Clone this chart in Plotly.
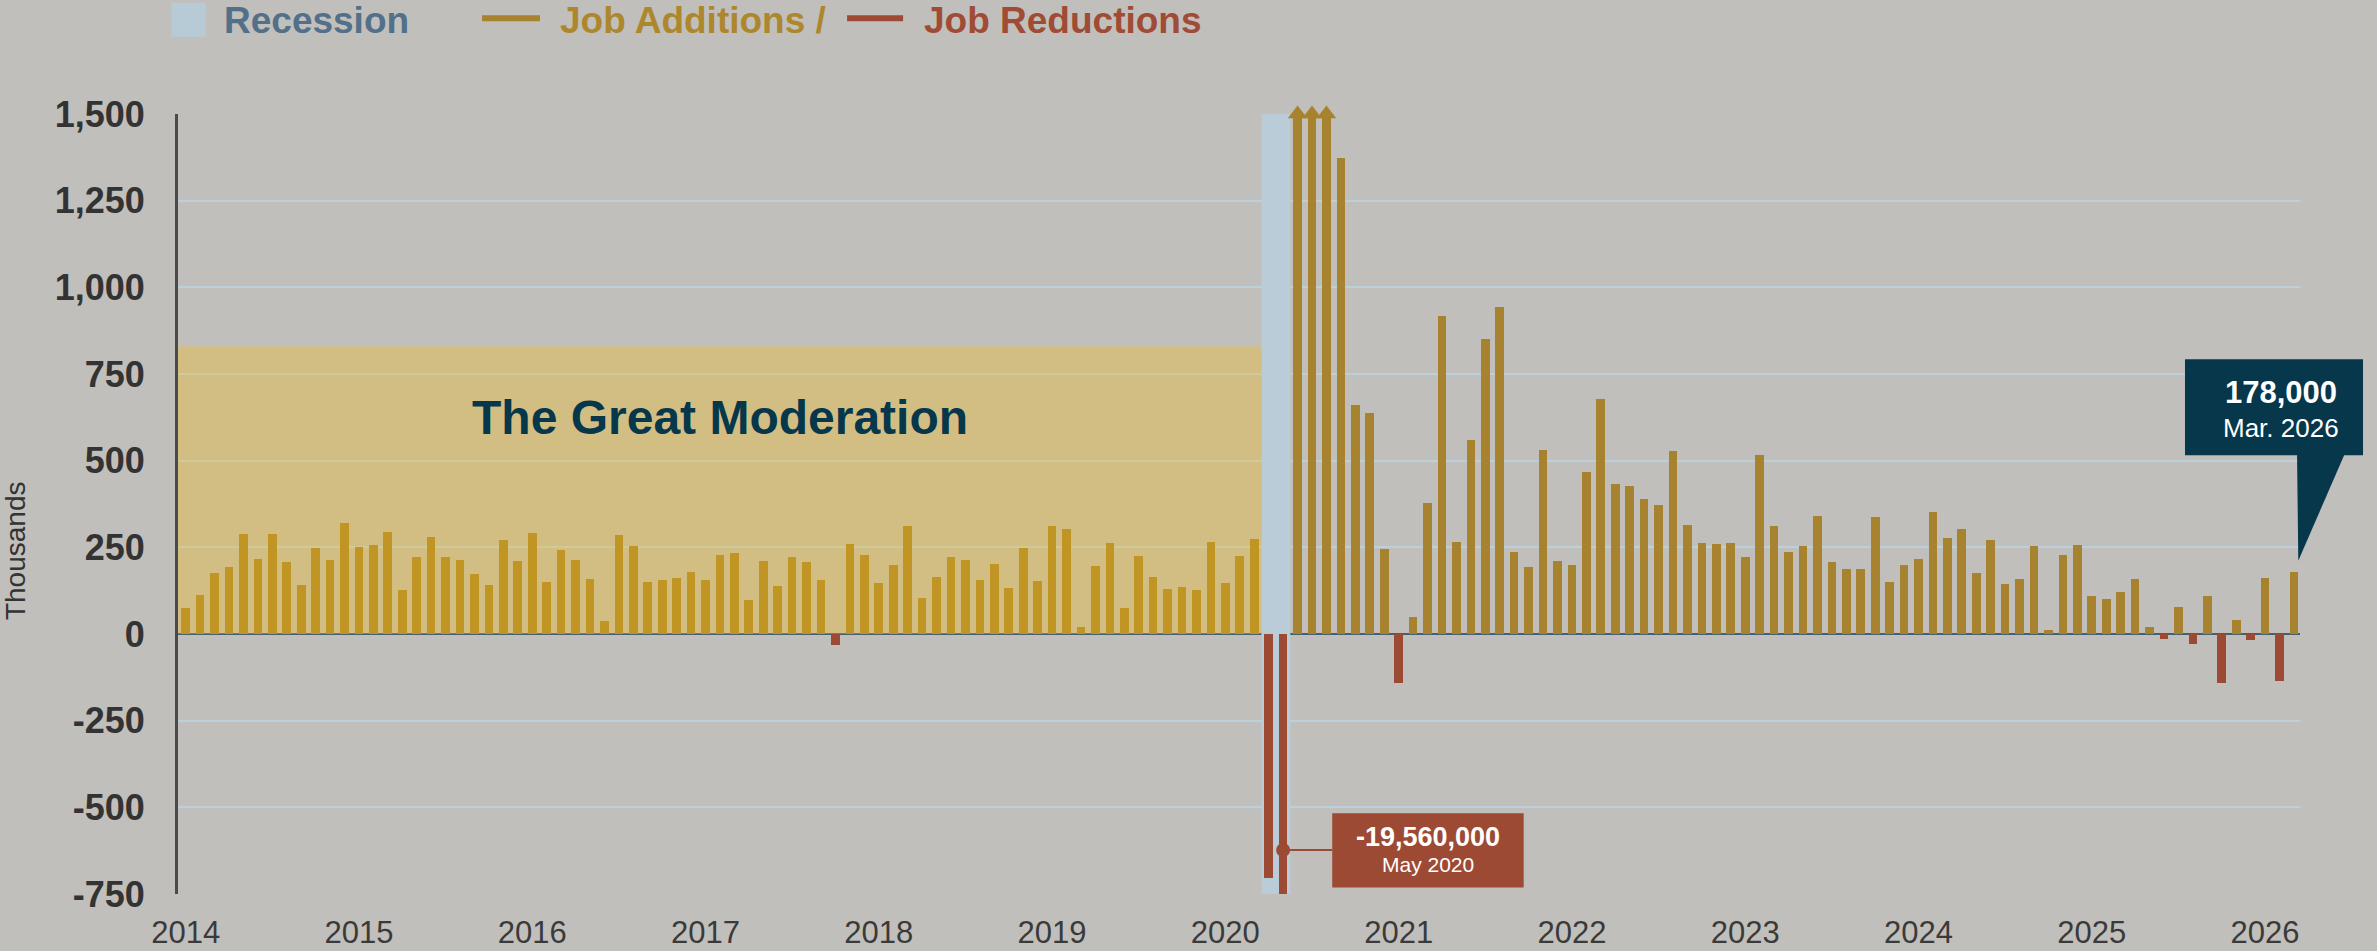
import pandas as pd
import plotly.graph_objects as go

# monthly categories Jan 2014 .. Mar 2026
months = [p.strftime("%Y-%m") for p in pd.period_range("2014-01", "2026-03", freq="M")]

# monthly change in payrolls, thousands (Jun-Aug 2020 are off the scale)
payrolls = [
    75, 113, 175, 193, 288, 217, 288, 209, 142, 248, 214, 320,          # 2014
    252, 257, 294, 126, 223, 280, 223, 214, 173, 142, 271, 211,         # 2015
    291, 151, 242, 214, 160, 38, 287, 255, 151, 156, 161, 178,          # 2016
    156, 228, 235, 99, 211, 139, 222, 209, 156, -33, 260, 228,          # 2017
    148, 199, 312, 103, 164, 222, 213, 157, 201, 134, 249, 154,         # 2018
    312, 304, 20, 196, 262, 76, 224, 164, 130, 136, 128, 265,           # 2019
    146, 225, 273, -703, -19560, 2725, 4781, 1726, 1372, 662, 638, 245, # 2020
    -140, 49, 379, 916, 266, 560, 851, 943, 236, 194, 531, 211,         # 2021
    199, 467, 678, 432, 427, 389, 372, 528, 315, 263, 261, 263,         # 2022
    223, 517, 312, 236, 254, 339, 209, 187, 187, 337, 150, 199,         # 2023
    216, 353, 276, 303, 175, 271, 144, 159, 254, 12, 228, 256,          # 2024
    111, 102, 121, 158, 19, -13, 79, -28, 109, -140, 40, -16,           # 2025
    161, -135, 178,                                                     # 2026
]

recession = ["2020-04", "2020-05"]
moderation = ["2014-01", "2020-03"]
moderation_top = 830

year_ticks = [m for m in months if m.endswith("-01")]
year_labels = [m[:4] for m in year_ticks]
y_ticks = list(range(-750, 1501, 250))

GOLD = "#a7822f"
RED = "#9d4a35"
TEAL = "#06374a"
BG = "#c1bfbb"
FONT = "Liberation Sans, Arial, sans-serif"

ymin, ymax = -750, 1500
x_range = [-0.53, len(months) - 1 + 0.42]

colors = [GOLD if v >= 0 else RED for v in payrolls]

fig = go.Figure()
fig.add_trace(go.Bar(x=months, y=payrolls, marker_color=colors, marker_line_width=0,
                     width=0.6, showlegend=False, hoverinfo="x+y"))

# arrow heads for bars that run off the scale
up = [m for m, v in zip(months, payrolls) if v > ymax]
down = [m for m, v in zip(months, payrolls) if v < ymin]
fig.add_trace(go.Scatter(x=up, y=[ymax] * len(up), mode="markers", cliponaxis=False,
                         marker=dict(symbol="triangle-up", size=17, color=GOLD),
                         showlegend=False, hoverinfo="skip"))
fig.add_trace(go.Scatter(x=down, y=[ymin - 15] * len(down), mode="markers", cliponaxis=False,
                         marker=dict(symbol="triangle-down", size=17, color=RED),
                         showlegend=False, hoverinfo="skip"))

# callout for the big drop
low_i = payrolls.index(min(payrolls))
fig.add_trace(go.Scatter(x=[months[low_i]], y=[-623], mode="markers",
                         marker=dict(size=14, color=RED), showlegend=False, hoverinfo="skip"))

rec0 = months.index(recession[0]) - 0.5
rec1 = months.index(recession[-1]) + 0.5
gm1 = months.index(moderation[-1]) + 0.5

shapes = [
    dict(type="rect", xref="x", yref="y", x0=rec0, x1=rec1, y0=ymin, y1=ymax,
         fillcolor="#b9ccd7", line_width=0, layer="between"),
    dict(type="rect", xref="x", yref="y", x0=x_range[0], x1=gm1, y0=0, y1=moderation_top,
         fillcolor="#f7bf0c", opacity=0.32, line_width=0, layer="above"),
    dict(type="line", xref="x", yref="y", x0=low_i, x1=low_i + 3.4, y0=-623, y1=-623,
         line=dict(color=RED, width=2), layer="above"),
    dict(type="rect", xref="x", yref="y", x0=low_i + 3.4, x1=low_i + 16.66, y0=-731, y1=-517,
         fillcolor=RED, line_width=0, layer="above"),
    # latest value callout
    dict(type="rect", xref="paper", yref="paper", x0=0.9458, x1=1.0297, y0=0.5624, y1=0.6855,
         fillcolor=TEAL, line_width=0, layer="above"),
    dict(type="path", xref="paper", yref="paper",
         path="M 0.9986,0.5650 L 1.0212,0.5650 L 0.9992,0.4273 Z",
         fillcolor=TEAL, line_width=0, layer="above"),
    # legend keys
    dict(type="rect", xref="paper", yref="paper", x0=-0.0031, x1=0.0131, y0=1.0991, y1=1.1427,
         fillcolor="#b7cbd7", line_width=0),
    dict(type="line", xref="paper", yref="paper", x0=0.1433, x1=0.1706, y0=1.1227, y1=1.1227,
         line=dict(color=GOLD, width=6)),
    dict(type="line", xref="paper", yref="paper", x0=0.3153, x1=0.3417, y0=1.1227, y1=1.1227,
         line=dict(color=RED, width=6)),
]

last = payrolls[-1]
last_label = pd.Period(months[-1]).strftime("%b. %Y")
low_label = pd.Period(months[low_i]).strftime("%B %Y")


def note(text, x, y, size, color, xref="paper", yref="paper", xanchor="center", **kw):
    return dict(text=text, xref=xref, yref=yref, x=x, y=y, xanchor=xanchor, yanchor="middle",
                showarrow=False, font=dict(family=FONT, size=size, color=color), **kw)


annotations = [
    note("<b>The Great Moderation</b>", 0.2554, 0.6103, 48, TEAL),
    note(f"<b>{min(payrolls) * 1000:,}</b>", low_i + 10.0, -585, 27, "white", xref="x", yref="y"),
    note(low_label, low_i + 10.0, -665, 21, "white", xref="x", yref="y"),
    note(f"<b>{last * 1000:,}</b>", 0.9911, 0.6427, 31, "white"),
    note(last_label, 0.9911, 0.5974, 26, "white"),
    note("Thousands", -0.0768, 0.4397, 28, "#333333", textangle=-90),
    note("<b>Recession</b>", 0.0206, 1.1205, 37, "#52708a", xanchor="left"),
    note("<b>Job Additions /</b>", 0.1791, 1.1205, 37, "#ad872d", xanchor="left"),
    note("<b>Job Reductions</b>", 0.3506, 1.1205, 37, "#a04b35", xanchor="left"),
]

fig.update_layout(
    width=2377, height=951,
    margin=dict(l=178, r=77, t=114, b=57),
    paper_bgcolor=BG, plot_bgcolor=BG,
    bargap=0, shapes=shapes, annotations=annotations,
    font=dict(family=FONT, color="#333333"),
)
fig.update_xaxes(type="category", range=x_range, tickvals=year_ticks, ticktext=year_labels,
                 showgrid=False, showline=False, zeroline=False, ticks="", automargin=False,
                 ticklabelstandoff=17, tickfont=dict(family=FONT, size=31, color="#3a3a3a"))
fig.update_yaxes(range=[ymin, ymax], tickvals=y_ticks,
                 ticktext=[f"<b>{v:,}</b>" for v in y_ticks], automargin=False,
                 showgrid=True, gridcolor="#bcd0dc", gridwidth=2,
                 zeroline=True, zerolinecolor="#46616b", zerolinewidth=2,
                 showline=True, linecolor="#4a4a4a", linewidth=3, ticks="",
                 ticklabelstandoff=23, tickfont=dict(family=FONT, size=36, color="#333333"))

fig.write_html("out.html", config={"displayModeBar": False},
               post_script="document.body.style.margin='0';document.body.style.overflow='hidden';")
